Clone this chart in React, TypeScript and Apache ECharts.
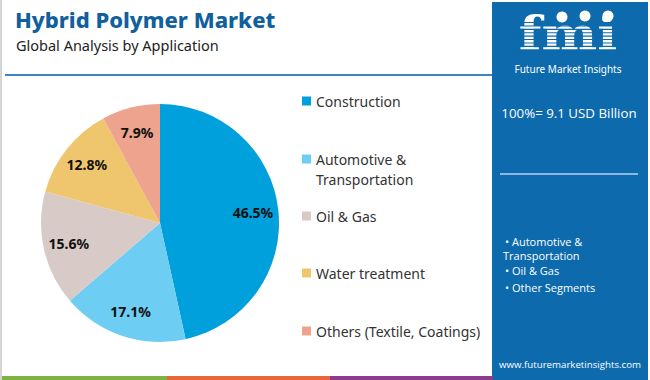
import React, { useEffect, useRef } from "react";
import * as echarts from "echarts";

const categories = [
  "Construction",
  "Automotive & Transportation",
  "Oil & Gas",
  "Water treatment",
  "Others (Textile, Coatings)",
];
const shares = [46.5, 17.1, 15.6, 12.8, 7.9];
const colors = ["#00a0dc", "#6dcdf2", "#d8cbc7", "#efc66d", "#eea38e"];
const legendTops = [91, 129, 206, 263, 321];
const bullets = ["• Automotive &", "Transportation", "• Oil & Gas", "• Other Segments"];
const totalText = "100%= 9.1 USD Billion";

export default function App() {
  const ref = useRef<HTMLDivElement>(null);
  useEffect(() => {
    if (!ref.current) return;
    const chart = echarts.init(ref.current, null, { renderer: "svg" });
    const data = categories.map((c, i) => ({
      name: c,
      value: shares[i],
      itemStyle: { color: colors[i] },
    }));
    const legendName = (n: string) =>
      n === "Automotive & Transportation" ? "\nAutomotive &\nTransportation" : n;
    const legends = categories.map((c, i) => ({
      data: [c],
      orient: "vertical",
      left: 302,
      top: legendTops[i],
      padding: 0,
      icon: "rect",
      itemWidth: 9,
      itemHeight: 9,
      itemGap: 6,
      selectedMode: false,
      formatter: legendName,
      textStyle: {
        fontFamily: "Noto Sans",
        fontSize: 14,
        color: "#333",
        lineHeight: 20,
      },
    }));
    const stripeLines = [] as any[];
    for (let k = 0; k < 12; k++) {
      stripeLines.push({
        type: "rect",
        shape: { x: 510, y: 22 + k * 3.4, width: 120, height: 1.1 },
        style: { fill: "#0d6aad" },
        z: 12,
      });
    }
    chart.setOption({
      animation: false,
      title: [
        {
          text: "Hybrid Polymer Market",
          left: 10,
          top: 3,
          textStyle: { fontFamily: "Noto Sans", fontSize: 22, fontWeight: 800, color: "#115f9d" },
        },
        {
          text: "Global Analysis by Application",
          left: 11,
          top: 32,
          textStyle: { fontFamily: "Noto Sans", fontSize: 14.5, fontWeight: 400, color: "#222" },
        },
      ],
      legend: legends,
      series: [
        {
          type: "pie",
          center: [160, 223],
          radius: [0, 119],
          startAngle: 90,
          clockwise: true,
          data,
          label: { show: false },
          labelLine: { show: false },
          silent: true,
        },
        {
          type: "pie",
          center: [160, 223],
          radius: [62, 119],
          startAngle: 90,
          clockwise: true,
          data: categories.map((c, i) => ({ name: c, value: shares[i] })),
          itemStyle: { color: "rgba(0,0,0,0)" },
          label: {
            show: true,
            position: "inside",
            formatter: (p: any) => p.value.toFixed(1) + "%",
            fontFamily: "Noto Sans",
            fontSize: 14,
            fontWeight: "bold",
            color: "#111",
          },
          labelLine: { show: false },
          silent: true,
          z: 3,
        },
      ],
      graphic: [
        { type: "rect", shape: { x: 0, y: 0, width: 2, height: 380 }, style: { fill: "#d5d5d5" }, z: 1 },
        { type: "rect", shape: { x: 5, y: 74, width: 487, height: 2 }, style: { fill: "#3b87c6" }, z: 1 },
        { type: "rect", shape: { x: 492, y: 2, width: 156, height: 378 }, style: { fill: "#0d6aad" }, z: 1 },
        { type: "rect", shape: { x: 2, y: 376, width: 165, height: 4 }, style: { fill: "#7cb342" }, z: 2 },
        { type: "rect", shape: { x: 167, y: 376, width: 163, height: 4 }, style: { fill: "#e8673a" }, z: 2 },
        { type: "rect", shape: { x: 330, y: 376, width: 163, height: 4 }, style: { fill: "#8e3a8e" }, z: 2 },
        {
          type: "text",
          x: 568,
          y: 34,
          scaleX: 1.12,
          style: {
            text: "fmi",
            fill: "#fff",
            font: "bold 47px 'DejaVu Serif'",
            align: "center",
            verticalAlign: "middle",
          },
          z: 11,
        },
        ...stripeLines,
        { type: "circle", shape: { cx: 562, cy: 17, r: 5.5 }, style: { fill: "#fff" }, z: 13 },
        { type: "circle", shape: { cx: 585, cy: 16, r: 5.5 }, style: { fill: "#fff" }, z: 13 },
        { type: "circle", shape: { cx: 608, cy: 16, r: 5.5 }, style: { fill: "#fff" }, z: 13 },
        {
          type: "text",
          x: 568,
          y: 69,
          style: {
            text: "Future Market Insights",
            fill: "#fff",
            font: "10px 'Noto Sans'",
            align: "center",
            verticalAlign: "middle",
          },
          z: 13,
        },
        {
          type: "text",
          x: 569,
          y: 113,
          style: {
            text: totalText,
            fill: "#fff",
            font: "13.3px 'Open Sans'",
            align: "center",
            verticalAlign: "middle",
          },
          z: 13,
        },
        { type: "rect", shape: { x: 500, y: 173, width: 138, height: 2 }, style: { fill: "#8fb8de" }, z: 13 },
        ...bullets.map((b, i) => ({
          type: "text",
          x: i === 1 ? 503 : 505,
          y: [241, 255, 270, 287][i],
          style: {
            text: b,
            fill: "#fff",
            font: "11px 'Open Sans'",
            align: "left",
            verticalAlign: "middle",
          },
          z: 13,
        })),
        {
          type: "text",
          x: 570,
          y: 364,
          style: {
            text: "www.futuremarketinsights.com",
            fill: "#fff",
            font: "9.7px 'Open Sans'",
            align: "center",
            verticalAlign: "middle",
          },
          z: 13,
        },
      ],
    });
    return () => chart.dispose();
  }, []);
  return <div ref={ref} style={{ width: 650, height: 380, position: "absolute", left: 0, top: 0 }} />;
}
